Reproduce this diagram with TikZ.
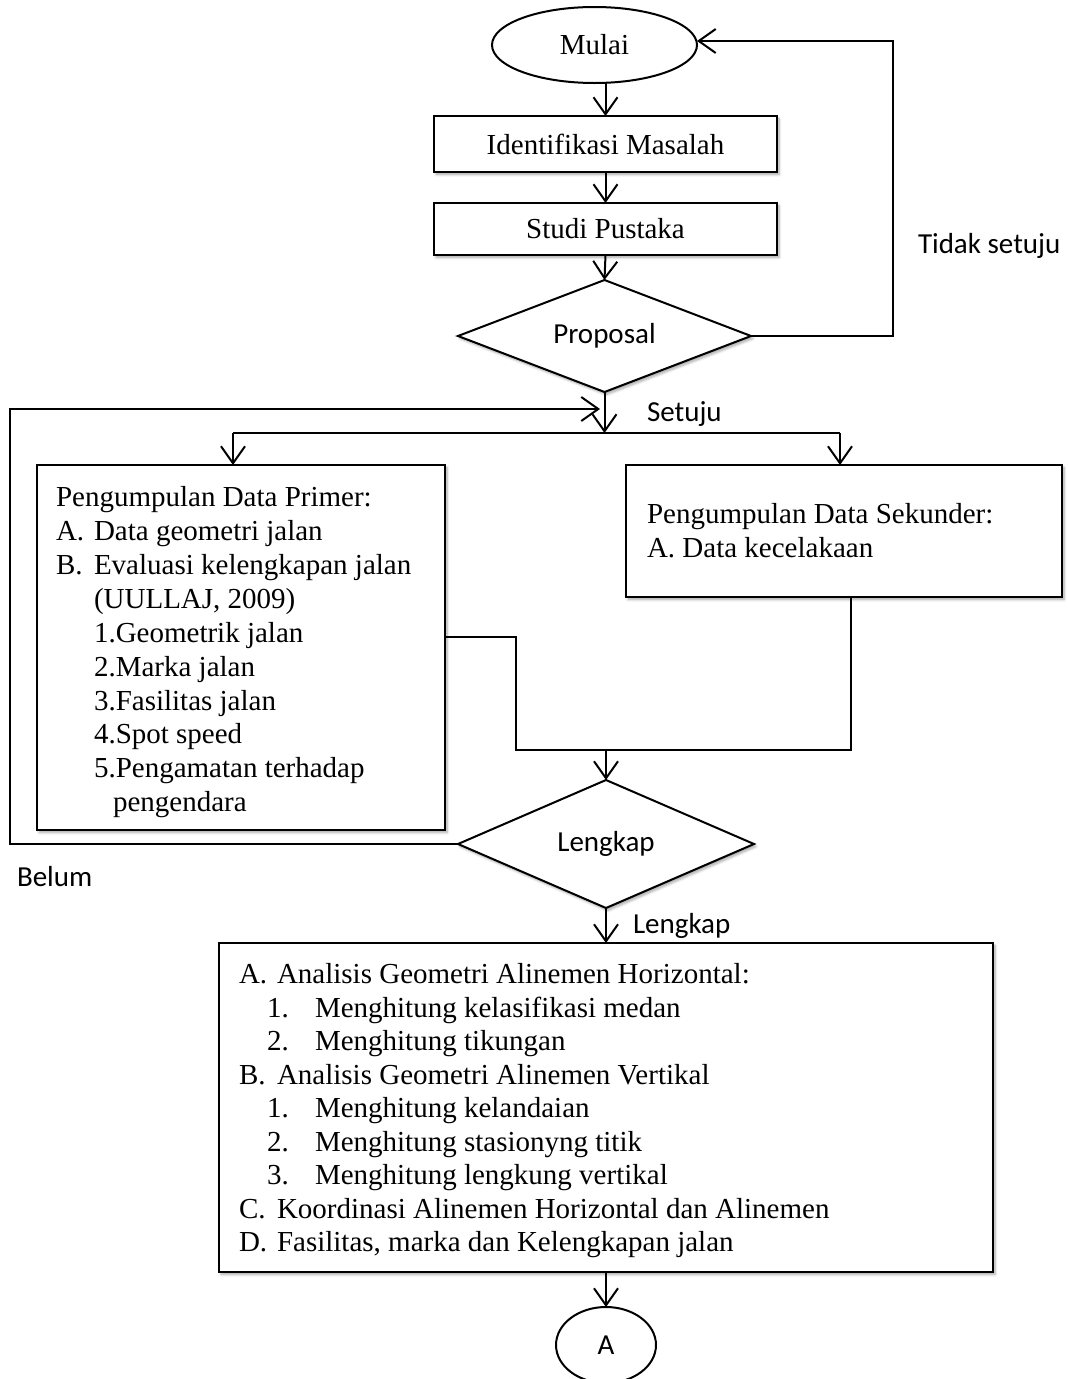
\documentclass[tikz,border=0pt]{standalone}
\usepackage{fontspec}
\setmainfont{Liberation Serif}
\newfontfamily\calfont{Carlito}
\usetikzlibrary{shapes.geometric,arrows.meta,shadows.blur}
\begin{document}
\begin{tikzpicture}[x=1pt,y=-1pt, line width=2pt,
 every node/.style={inner sep=0pt, outer sep=0pt},
 tnr/.style={font=\fontsize{29}{34}\selectfont},
 cal/.style={font=\calfont\fontsize{29}{34}\selectfont},
 shad/.style={blur shadow={shadow xshift=2pt, shadow yshift=-2.5pt, shadow blur steps=6, shadow blur radius=2.5pt, shadow opacity=35}},
 box/.style={draw, rectangle, fill=white, shad, tnr},
 dia/.style={draw, diamond, fill=white, shad},
 ell/.style={draw, ellipse, fill=white, tnr},
 arr/.style={-{Straight Barb[length=17pt,width=24pt,line width=2pt]}},
 lbl/.style={anchor=base west}
]
\useasboundingbox (0,0) rectangle (1068,1379);

% nodes
\node[ell, minimum width=205, minimum height=76] (mulai) at (594.5,45) {Mulai};
\node[box, minimum width=343, minimum height=56] (ident) at (605.5,144) {Identifikasi Masalah};
\node[box, minimum width=343, minimum height=52] (studi) at (605.5,229) {Studi Pustaka};
\node[dia, minimum width=293, minimum height=112] (prop) at (604.5,336) {};
\node[cal] (propt) at (prop) {Proposal};

\node[box, minimum width=408, minimum height=365] (prim) at (241,647.5) {};
\node[box, minimum width=436, minimum height=132] (sek) at (844,531) {};

\node[dia, minimum width=296, minimum height=128] (leng) at (606,844) {};
\node[cal] (lengt) at (leng) {Lengkap};

\node[box, minimum width=774, minimum height=329] (bot) at (606,1107.5) {};
\node[ell, minimum width=100, minimum height=76, font=\calfont\fontsize{29}{34}\selectfont] (circA) at (606,1345) {A};

% primary text
\node[tnr,lbl] (p0) at (56,506) {Pengumpulan Data Primer:};
\node[tnr,lbl] (p1a) at (56,540) {A.};
\node[tnr,lbl] (p1) at (94,540) {Data geometri jalan};
\node[tnr,lbl] (p2a) at (56,574) {B.};
\node[tnr,lbl] (p2) at (94,574) {Evaluasi kelengkapan jalan};
\node[tnr,lbl] (p3) at (94,608) {(UULLAJ, 2009)};
\node[tnr,lbl] (p4) at (94,642) {1.Geometrik jalan};
\node[tnr,lbl] (p5) at (94,676) {2.Marka jalan};
\node[tnr,lbl] (p6) at (94,710) {3.Fasilitas jalan};
\node[tnr,lbl] (p7) at (94,743) {4.Spot speed};
\node[tnr,lbl] (p8) at (94,777) {5.Pengamatan terhadap};
\node[tnr,lbl] (p9) at (113,811) {pengendara};

% secondary text
\node[tnr,lbl] (s0) at (647,523) {Pengumpulan Data Sekunder:};
\node[tnr,lbl] (s1) at (647,557) {A. Data kecelakaan};

% bottom text
\node[tnr,lbl] (b1a) at (239,983) {A.};
\node[tnr,lbl] (b1) at (277,983) {Analisis Geometri Alinemen Horizontal:};
\node[tnr,lbl] (b2a) at (267,1017) {1.};
\node[tnr,lbl] (b2) at (315,1017) {Menghitung kelasifikasi medan};
\node[tnr,lbl] (b3a) at (267,1050) {2.};
\node[tnr,lbl] (b3) at (315,1050) {Menghitung tikungan};
\node[tnr,lbl] (b4a) at (239,1084) {B.};
\node[tnr,lbl] (b4) at (277,1084) {Analisis Geometri Alinemen Vertikal};
\node[tnr,lbl] (b5a) at (267,1117) {1.};
\node[tnr,lbl] (b5) at (315,1117) {Menghitung kelandaian};
\node[tnr,lbl] (b6a) at (267,1151) {2.};
\node[tnr,lbl] (b6) at (315,1151) {Menghitung stasionyng titik};
\node[tnr,lbl] (b7a) at (267,1184) {3.};
\node[tnr,lbl] (b7) at (315,1184) {Menghitung lengkung vertikal};
\node[tnr,lbl] (b8a) at (239,1218) {C.};
\node[tnr,lbl] (b8) at (277,1218) {Koordinasi Alinemen Horizontal dan Alinemen};
\node[tnr,lbl] (b9a) at (239,1251) {D.};
\node[tnr,lbl] (b9) at (277,1251) {Fasilitas, marka dan Kelengkapan jalan};

% labels
\node[cal,lbl] (tidak) at (918,253) {Tidak setuju};
\node[cal,lbl] (setuju) at (647,421) {Setuju};
\node[cal,lbl] (belum) at (17,886) {Belum};
\node[cal,lbl] (lengl) at (633,933) {Lengkap};

% coordinates
\coordinate (rx) at (893,41);
\coordinate (j1) at (604.5,433);
\coordinate (jl) at (233,433);
\coordinate (jr) at (840,433);
\coordinate (bl1) at (10,844);
\coordinate (bl2) at (10,409);
\coordinate (bl3) at (600,409);
\coordinate (m1) at (516,637);
\coordinate (m2) at (851,750);

% connectors
\draw[arr] (ident.north |- mulai.south) -- (ident.north);
\draw[arr] (ident.south) -- (studi.north);
\draw[arr] (studi.south) -- (prop.north);
\draw[arr] (prop.east) -- (prop.east -| rx) -- (rx) -- (rx -| mulai.east);
\draw[arr] (prop.south) -- (j1);
\draw (jl) -- (jr);
\draw[arr] (jl) -- (jl |- prim.north);
\draw[arr] (jr) -- (jr |- sek.north);
\draw[arr] (leng.west) -- (bl1) -- (bl2) -- (bl3);
\draw (prim.east |- m1) -- (m1) -- (m1 |- m2) -- (m2) -- (m2 |- sek.south);
\draw[arr] (leng.north |- m2) -- (leng.north);
\draw[arr] (leng.south) -- (bot.north);
\draw[arr] (bot.south) -- (circA.north);
\end{tikzpicture}
\end{document}
